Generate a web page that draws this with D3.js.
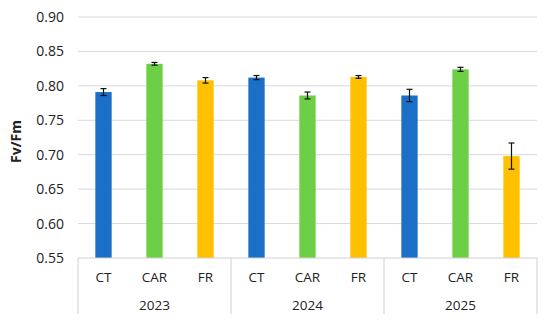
<!DOCTYPE html>
<html>
<head>
<meta charset="utf-8">
<script src="https://cdn.jsdelivr.net/npm/d3@7"></script>
<style>
  body { margin: 0; background: #fff; }
  text { font-family: "Open Sans", "Noto Sans", sans-serif; fill: #222; }
</style>
</head>
<body>
<div id="chart"></div>
<script>
// Fv/Fm by treatment and year

var years = ["2023", "2024", "2025"];
var treatments = ["CT", "CAR", "FR"];
var values = [0.791, 0.832, 0.808, 0.812, 0.786, 0.813, 0.786, 0.824, 0.698];
var errors = [0.005, 0.002, 0.004, 0.003, 0.005, 0.002, 0.009, 0.003, 0.019];
var yTicks = [0.55, 0.60, 0.65, 0.70, 0.75, 0.80, 0.85, 0.90];
var colors = {CT: "#1b6fc6", CAR: "#6dcf45", FR: "#ffc000"};

var W = 550, H = 324;
var margin = {top: 17, right: 13, bottom: 66, left: 78};
var width = W - margin.left - margin.right;
var height = H - margin.top - margin.bottom;

// one entry per bar
var data = [];
years.forEach(function(yr, i) {
    treatments.forEach(function(t, j) {
        var k = i * treatments.length + j;
        data.push({key: yr + "-" + t, year: yr, t: t, v: values[k], e: errors[k]});
    });
});

var svg = d3.select("#chart").append("svg")
    .attr("width", W)
    .attr("height", H);

var g = svg.append("g")
    .attr("transform", "translate(" + margin.left + "," + margin.top + ")");

var x = d3.scaleBand()
    .domain(data.map(function(d) { return d.key; }))
    .range([0, width])
    .paddingInner(0.68)
    .paddingOuter(0.34);

var xYear = d3.scaleBand()
    .domain(years)
    .range([0, width]);

var y = d3.scaleLinear()
    .domain([0.55, 0.90])
    .range([height, 0]);

// gridlines
g.append("g")
    .selectAll("line")
    .data(yTicks.slice(1))
    .enter().append("line")
    .attr("x1", 0).attr("x2", width)
    .attr("y1", function(d) { return y(d); })
    .attr("y2", function(d) { return y(d); })
    .attr("stroke", "#d9d9d9")
    .attr("stroke-width", 1);

// y axis labels
var yAxis = g.append("g")
    .call(d3.axisLeft(y).tickValues(yTicks).tickFormat(d3.format(".2f")).tickSize(0).tickPadding(14));
yAxis.select(".domain").remove();
yAxis.selectAll("text").style("font-size", "14px").attr("fill", "#222");

// bars
g.selectAll("rect.bar")
    .data(data)
    .enter().append("rect")
    .attr("class", "bar")
    .attr("x", function(d) { return x(d.key); })
    .attr("width", x.bandwidth())
    .attr("y", function(d) { return y(d.v); })
    .attr("height", function(d) { return height - y(d.v); })
    .attr("fill", function(d) { return colors[d.t]; });

// error bars
var err = g.selectAll("g.err")
    .data(data)
    .enter().append("g")
    .attr("class", "err")
    .attr("transform", function(d) { return "translate(" + (x(d.key) + x.bandwidth() / 2) + ",0)"; });

err.append("line")
    .attr("y1", function(d) { return y(d.v - d.e); })
    .attr("y2", function(d) { return y(d.v + d.e); })
    .attr("stroke", "#111").attr("stroke-width", 1.2);
err.append("line")
    .attr("x1", -3).attr("x2", 3)
    .attr("y1", function(d) { return y(d.v + d.e); })
    .attr("y2", function(d) { return y(d.v + d.e); })
    .attr("stroke", "#111").attr("stroke-width", 1.2);
err.append("line")
    .attr("x1", -3).attr("x2", 3)
    .attr("y1", function(d) { return y(d.v - d.e); })
    .attr("y2", function(d) { return y(d.v - d.e); })
    .attr("stroke", "#111").attr("stroke-width", 1.2);

// category axis (two levels)
var cat = g.append("g").attr("transform", "translate(0," + height + ")");

cat.append("line")
    .attr("x1", 0).attr("x2", width)
    .attr("stroke", "#d0d0d0");

cat.selectAll("line.div")
    .data(years.map(function(yr) { return xYear(yr); }).concat([width]))
    .enter().append("line")
    .attr("class", "div")
    .attr("x1", function(d) { return d; }).attr("x2", function(d) { return d; })
    .attr("y1", 0).attr("y2", 56)
    .attr("stroke", "#d0d0d0");

cat.selectAll("text.t")
    .data(data)
    .enter().append("text")
    .attr("class", "t")
    .attr("x", function(d) { return x(d.key) + x.bandwidth() / 2; })
    .attr("y", 24)
    .attr("text-anchor", "middle")
    .style("font-size", "13.5px")
    .text(function(d) { return d.t; });

cat.selectAll("text.yr")
    .data(years)
    .enter().append("text")
    .attr("class", "yr")
    .attr("x", function(d) { return xYear(d) + xYear.bandwidth() / 2; })
    .attr("y", 52)
    .attr("text-anchor", "middle")
    .style("font-size", "13.5px")
    .text(function(d) { return d; });

// y axis title
svg.append("text")
    .attr("transform", "translate(21," + (margin.top + height / 2 + 4) + ") rotate(-90)")
    .attr("text-anchor", "middle")
    .style("font-size", "14px")
    .style("font-weight", "bold")
    .text("Fv/Fm");
</script>
</body>
</html>
